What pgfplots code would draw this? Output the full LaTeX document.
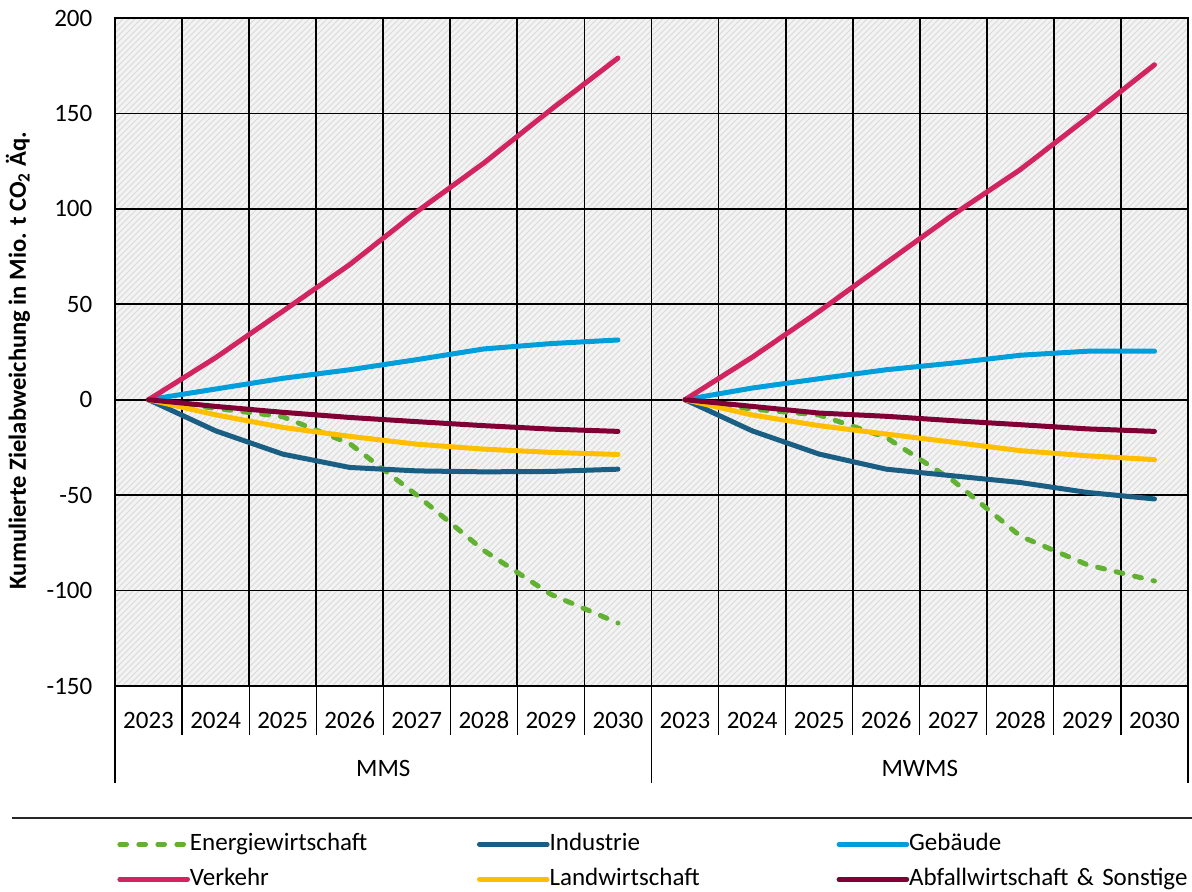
\documentclass[border=0pt]{standalone}
\usepackage{pgfplots}
\pgfplotsset{compat=1.18}
\usepackage{fontspec}
\setmainfont{Carlito}
\usetikzlibrary{patterns}
\definecolor{cEnergie}{HTML}{63B132}
\definecolor{cIndustrie}{HTML}{1B5E84}
\definecolor{cGebaeude}{HTML}{009EDA}
\definecolor{cVerkehr}{HTML}{D22460}
\definecolor{cLand}{HTML}{FFBE00}
\definecolor{cAbfall}{HTML}{800036}
\definecolor{bgfill}{HTML}{F3F3F3}
\definecolor{bgline}{HTML}{DADADA}
\begin{document}
\fontsize{12.5}{15}\selectfont
\begin{tikzpicture}[font=\fontsize{12.5}{15}\selectfont]
\useasboundingbox (0,0) rectangle (596pt,446pt);
\begin{axis}[
  at={(57.5pt,103pt)}, anchor=south west,
  scale only axis, width=536.5pt, height=334pt,
  xmin=-0.5, xmax=15.5, ymin=-150, ymax=200,
  clip=false,
  unbounded coords=jump,
  axis background/.style={fill=bgfill, postaction={pattern=north east lines, pattern color=bgline}},
  axis line style={black, line width=0.9pt},
  tick pos=left, tick align=outside,
  major tick length=0pt,
  xtick={0,...,15},
  xticklabels={2023,2024,2025,2026,2027,2028,2029,2030,2023,2024,2025,2026,2027,2028,2029,2030},
  xticklabel style={anchor=center, yshift=-17pt},
  minor xtick={0.5,1.5,...,14.5},
  minor tick length=24.5pt,
  minor x tick style={black, line width=0.6pt},
  xminorgrids=true,
  minor x grid style={black, line width=0.9pt},
  extra x ticks={-0.5,7.5,15.5},
  extra x tick labels={},
  extra x tick style={major tick length=48.5pt, major x tick style={black, line width=0.6pt}, xmajorgrids=false},
  ytick={-150,-100,-50,0,50,100,150,200},
  yticklabels={-150,-100,-50,0,50,100,150,200},
  yticklabel style={xshift=-7pt},
  ymajorgrids=true,
  major y grid style={black, line width=0.9pt},
  ylabel={\bfseries Kumulierte Zielabweichung in Mio. t CO\textsubscript{2} Äq.},
  every axis y label/.style={at={(rel axis cs:-0.0904,0.487)}, rotate=90, anchor=center, font=\fontsize{12.3}{14}\selectfont},
  legend columns=3,
  legend cell align=left,
  legend style={at={(rel axis cs:0.00186,-0.21856)}, anchor=north west, draw=none, fill=none, inner sep=0pt, column sep=0pt, row sep=5.5pt,
    /tikz/every even column/.append style={column sep=3.5pt},
    nodes={inner sep=0pt, text width=140pt, text height=9pt, text depth=3pt, align=left}},
  legend image code/.code={\draw[#1, line width=2.3pt] (0pt,0pt) -- (34pt,0pt);},
  every axis plot/.append style={line width=2.5pt, line join=round, line cap=round},
]
\addplot[cEnergie, dash pattern=on 3.5pt off 6pt] coordinates {
  (0,0) (1,-4.5) (2,-8.9) (3,-23) (4,-50) (5,-79) (6,-102) (7,-117)
  (7.5,nan)
  (8,0) (9,-4.9) (10,-8) (11,-19.8) (12,-42.5) (13,-71.5) (14,-86.5) (15,-95)};
\addlegendentry{Energiewirtschaft}
\addplot[cIndustrie] coordinates {
  (0,0) (1,-16.3) (2,-28.5) (3,-35.5) (4,-37.3) (5,-37.8) (6,-37.6) (7,-36.4)
  (7.5,nan)
  (8,0) (9,-16.3) (10,-28.5) (11,-36.4) (12,-39.9) (13,-43.4) (14,-48.6) (15,-52)};
\addlegendentry{Industrie}
\addplot[cGebaeude] coordinates {
  (0,0) (1,5.6) (2,11.2) (3,15.7) (4,21) (5,26.6) (6,29.4) (7,31.3)
  (7.5,nan)
  (8,0) (9,6.1) (10,11) (11,15.7) (12,19.2) (13,23.3) (14,25.4) (15,25.4)};
\addlegendentry{Gebäude}
\addplot[cVerkehr] coordinates {
  (0,0) (1,22) (2,46.3) (3,70.8) (4,98.5) (5,124) (6,152) (7,179)
  (7.5,nan)
  (8,0) (9,22.2) (10,46.3) (11,71.7) (12,97) (13,120.6) (14,147.7) (15,175.5)};
\addlegendentry{Verkehr}
\addplot[cLand] coordinates {
  (0,0) (1,-7.9) (2,-14.5) (3,-19.2) (4,-23.3) (5,-25.9) (6,-27.6) (7,-28.7)
  (7.5,nan)
  (8,0) (9,-8) (10,-13.6) (11,-18) (12,-22.3) (13,-26.7) (14,-29.4) (15,-31.4)};
\addlegendentry{Landwirtschaft}
\addplot[cAbfall] coordinates {
  (0,0) (1,-3.5) (2,-6.6) (3,-9.3) (4,-11.5) (5,-13.6) (6,-15.4) (7,-16.6)
  (7.5,nan)
  (8,0) (9,-3.5) (10,-7) (11,-8.7) (12,-11) (13,-13.1) (14,-15.3) (15,-16.6)};
\addlegendentry{Abfallwirtschaft \& Sonstige}
\node at (axis cs:3.5,-150) [yshift=-41pt] {MMS};
\node at (axis cs:11.5,-150) [yshift=-41pt] {MWMS};
\end{axis}
\draw[line width=0.9pt, black!85] (6pt,37pt) -- (596pt,37pt);
\end{tikzpicture}
\end{document}
